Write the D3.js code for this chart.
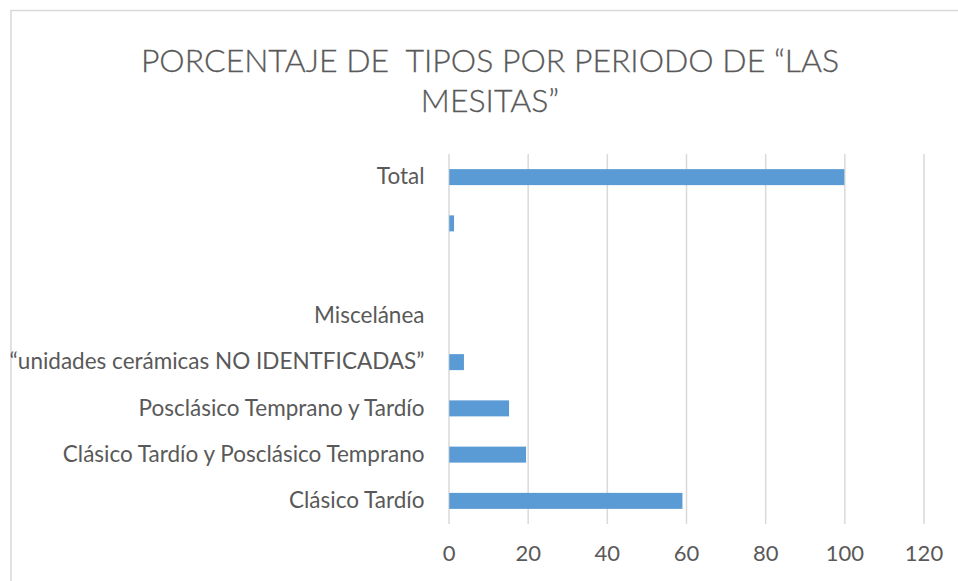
<!DOCTYPE html>
<html>
<head>
<meta charset="utf-8">
<script src="https://cdn.jsdelivr.net/npm/d3@7"></script>
<style>
  html, body { margin: 0; padding: 0; background: #fff; }
  svg { display: block; }
</style>
</head>
<body>
<script>
// Category labels, listed top to bottom as drawn
const categories = [
  "Total",
  "",
  "",
  "Miscelánea",
  "“unidades cerámicas NO IDENTFICADAS”",
  "Posclásico Temprano y Tardío",
  "Clásico Tardío y Posclásico Temprano",
  "Clásico Tardío"
];
// Percentage for each category (same order)
const values = [100, 1.4, 0, 0, 3.9, 15.3, 19.6, 59.1];
// Horizontal axis ticks
const xTicks = [0, 20, 40, 60, 80, 100, 120];
const titleLines = ["PORCENTAJE DE  TIPOS POR PERIODO DE “LAS", "MESITAS”"];

const W = 958, H = 581;
const plot = { left: 448.5, right: 923.5, top: 154, bottom: 524 };

const svg = d3.select("body").append("svg")
  .attr("width", W).attr("height", H);

// Chart area frame
svg.append("rect")
  .attr("x", 11).attr("y", 10.5)
  .attr("width", W).attr("height", H)
  .attr("fill", "#fff")
  .attr("stroke", "#d9d9d9").attr("stroke-width", 1.5);

const x = d3.scaleLinear().domain([0, 120]).range([plot.left, plot.right]);
const y = d3.scaleBand()
  .domain(d3.range(categories.length))
  .range([plot.top, plot.bottom])
  .paddingInner(0.654).paddingOuter(0.327);

// Title
svg.append("g").selectAll("text").data(titleLines).join("text")
  .attr("x", 490).attr("y", (d, i) => 72 + i * 40)
  .attr("text-anchor", "middle")
  .attr("font-family", "Lato, sans-serif").attr("font-weight", 300)
  .attr("font-size", 32).attr("fill", "#595959")
  .attr("stroke", "#595959").attr("stroke-width", 0.3)
  .style("white-space", "pre")
  .text(d => d);

// Vertical gridlines
const xAxis = d3.axisBottom(x).tickValues(xTicks)
  .tickSize(-(plot.bottom - plot.top)).tickPadding(21)
  .tickFormat(d3.format("d"));
const gx = svg.append("g").attr("transform", `translate(0,${plot.bottom})`).call(xAxis);
gx.select(".domain").remove();
gx.selectAll(".tick line").attr("stroke", "#d9d9d9").attr("stroke-width", 1.5);
gx.selectAll(".tick text")
  .attr("font-family", "Lato, sans-serif").attr("font-size", 22)
  .attr("fill", "#595959");

// Bars
svg.append("g").selectAll("rect").data(values).join("rect")
  .attr("x", x(0) + 0.75)
  .attr("y", (d, i) => y(i))
  .attr("width", d => Math.max(0, x(d) - x(0) - 0.75))
  .attr("height", y.bandwidth())
  .attr("fill", "#5b9bd5");

// Category labels
const yAxis = d3.axisLeft(y).tickSize(0).tickPadding(24)
  .tickFormat(i => categories[i]);
const gy = svg.append("g").attr("transform", `translate(${plot.left},0)`).call(yAxis);
gy.select(".domain").remove();
gy.selectAll(".tick text")
  .attr("font-family", "Lato, sans-serif").attr("font-size", 22.5)
  .attr("fill", "#595959");
</script>
</body>
</html>
